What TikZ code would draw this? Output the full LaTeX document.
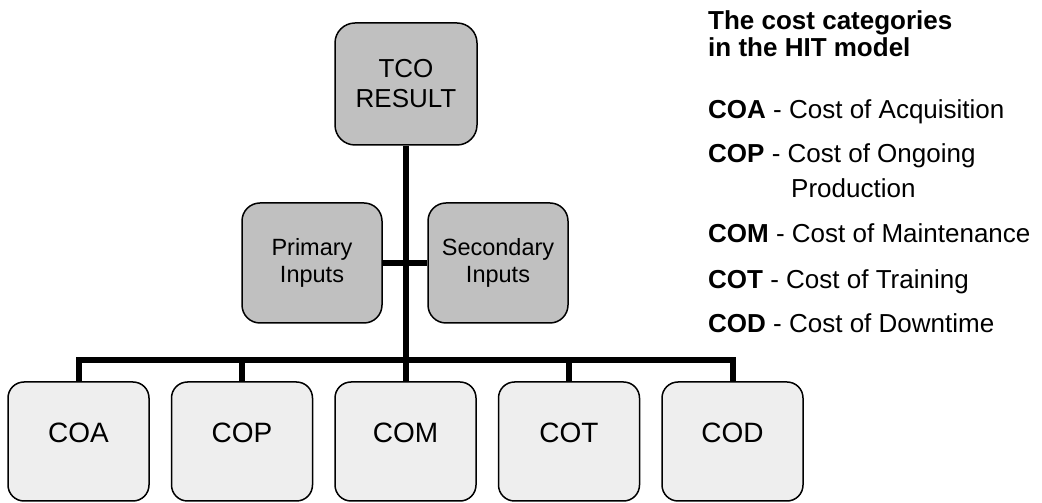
\documentclass[tikz,border=0pt]{standalone}
\usepackage{fontspec}
\setmainfont{Liberation Sans}
\definecolor{boxgray}{RGB}{192,192,192}
\definecolor{boxlight}{RGB}{238,238,238}
\begin{document}
\begin{tikzpicture}[x=1pt,y=1pt,
  topbox/.style={draw=black, line width=1.5pt, fill=boxgray, rounded corners=20pt,
    minimum width=142pt, minimum height=122pt, align=center, inner sep=0pt,
    font=\fontsize{26}{30}\selectfont},
  inbox/.style={draw=black, line width=1.5pt, fill=boxgray, rounded corners=18pt,
    minimum width=140pt, minimum height=120pt, align=center, inner sep=0pt,
    font=\fontsize{23.5}{27}\selectfont},
  costbox/.style={draw=black, line width=1.5pt, fill=boxlight, rounded corners=16pt,
    minimum width=141pt, minimum height=119pt, inner sep=0pt,
    text height=20pt, text depth=17pt, font=\fontsize{28}{32}\selectfont},
  conn/.style={line width=6.5pt, line join=miter},
  drop/.style={line width=6pt, line join=miter},
  legend/.style={anchor=base west, inner sep=0pt, font=\fontsize{26}{30}\selectfont},
]
\useasboundingbox (0,0) rectangle (1042,503);
% nodes
\node[topbox] (tco) at (406,419) {TCO\\RESULT};
\node[inbox] (pin) at (312,240) {Primary\\Inputs};
\node[inbox] (sin) at (498,240) {Secondary\\Inputs};
\node[costbox] (coa) at (78.5,61.5) {COA};
\node[costbox] (cop) at (242,61.5) {COP};
\node[costbox] (com) at (405.5,61.5) {COM};
\node[costbox] (cot) at (569,61.5) {COT};
\node[costbox] (cod) at (732.5,61.5) {COD};
\coordinate (bus) at (406,143);
% connectors
\draw[conn] (tco.south) -- (bus);
\draw[conn] (pin.east) -- (sin.west);
\draw[drop] (coa.north) -- (coa.north |- bus) -- (cod.north |- bus) -- (cod.north);
\draw[drop] (cop.north) -- (cop.north |- bus);
\draw[drop] (com.north) -- (com.north |- bus);
\draw[drop] (cot.north) -- (cot.north |- bus);
% legend
\node[legend, font=\fontsize{26}{30}\selectfont\bfseries] (t1) at (708,473) {The cost categories};
\node[legend, font=\fontsize{26}{30}\selectfont\bfseries] (t2) at (708,446) {in the HIT model};
\node[legend] (l1) at (708,384) {\textbf{COA} - Cost of Acquisition};
\node[legend] (l2) at (708,340) {\textbf{COP} - Cost of Ongoing};
\node[legend] (l2b) at (791,305) {Production};
\node[legend] (l3) at (708,260) {\textbf{COM} - Cost of Maintenance};
\node[legend] (l4) at (708,214) {\textbf{COT} - Cost of Training};
\node[legend] (l5) at (708,170) {\textbf{COD} - Cost of Downtime};
\end{tikzpicture}
\end{document}
